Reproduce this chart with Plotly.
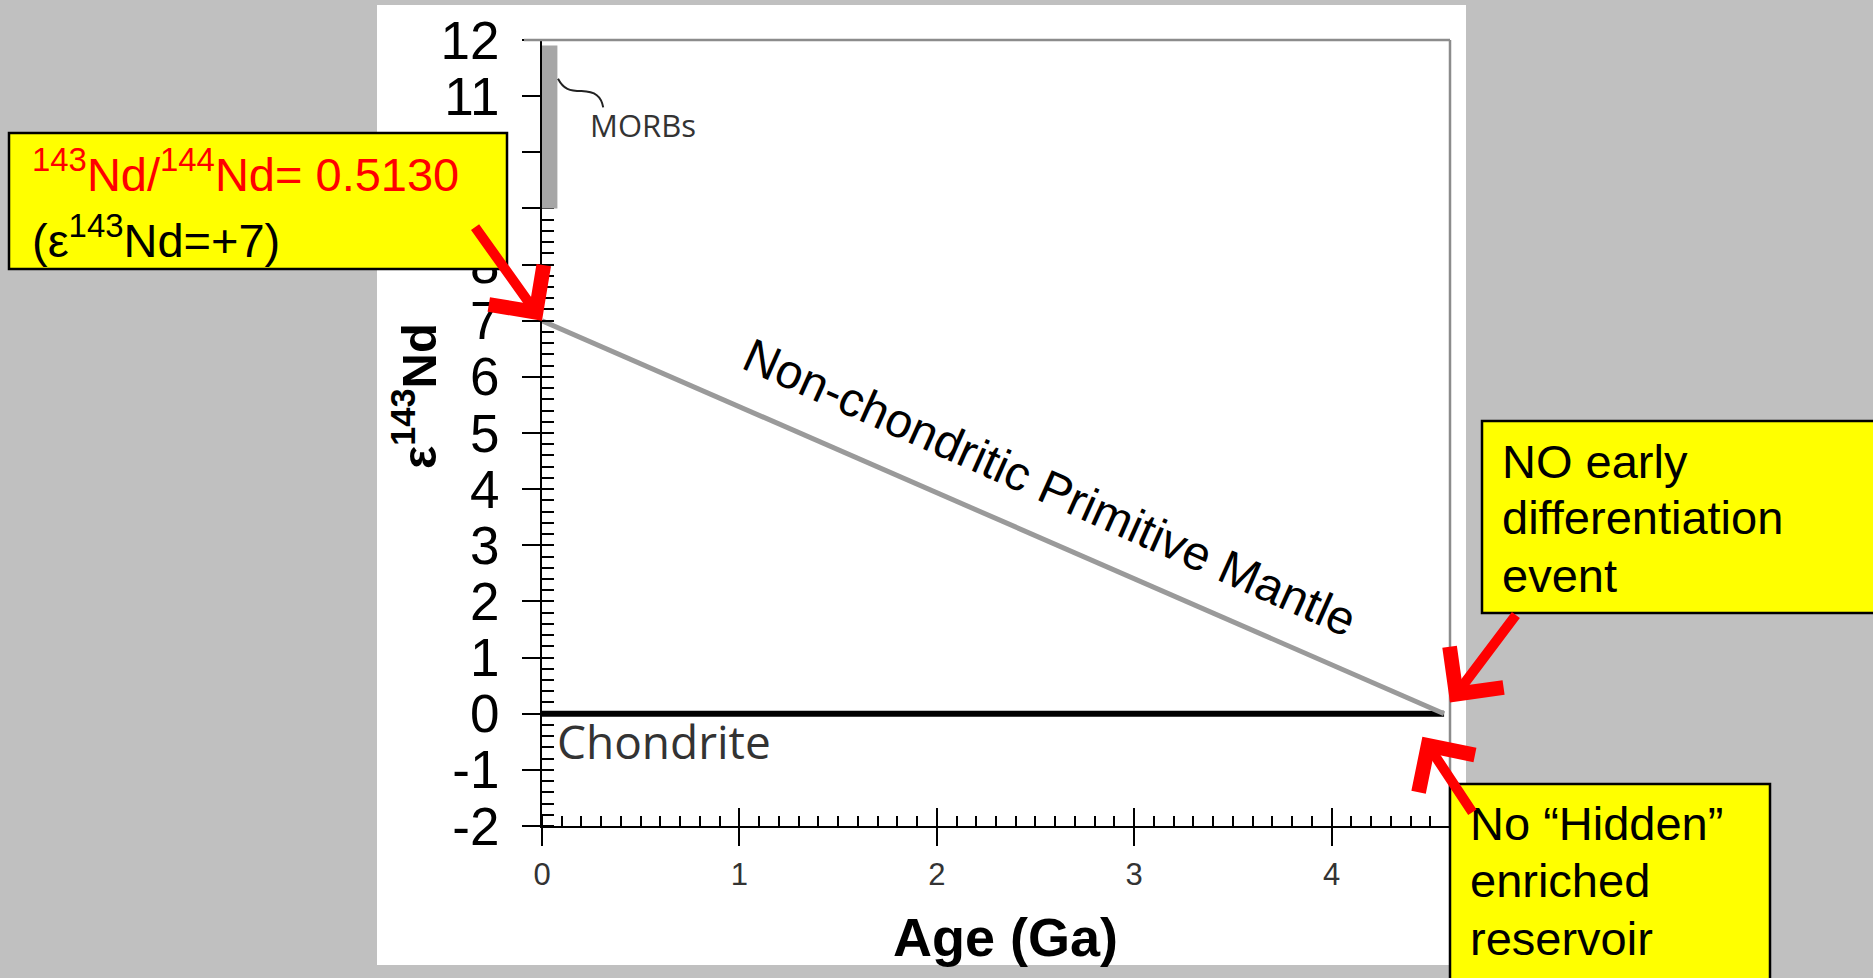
import plotly.graph_objects as go

# ---------------- data ----------------
AGE_GA = [0.0, 4.57]                 # age axis (Ga)
EPS_PRIMITIVE = [7.0, 0.0]           # non-chondritic primitive mantle evolution
EPS_CHONDRITE = [0.0, 0.0]           # chondrite reference
MORB_RANGE = [9.0, 11.9]             # MORB epsilon-Nd range (grey bar)
X_TICKS = [0, 1, 2, 3, 4]
Y_TICKS = list(range(-2, 13))
Y_TICK_LABELS = [str(v) for v in Y_TICKS]
# little curly connector from the MORB bar to its label (data coords)
BRACKET_X = [0.081, 0.11, 0.14, 0.20, 0.27, 0.30, 0.31]
BRACKET_Y = [11.31, 11.12, 11.09, 11.09, 11.08, 11.00, 10.80]

# ---------------- geometry helpers ----------------
W, H = 1873, 978
L, R, T, B = 542, 1450, 40, 826


def px(x):
    return (x - L) / (R - L)


def py(y):
    return (B - y) / (B - T)


FONT = "Liberation Sans, Arial, sans-serif"
SOFT = "Open Sans, Noto Sans, sans-serif"

fig = go.Figure()

fig.add_trace(go.Scatter(x=AGE_GA, y=EPS_CHONDRITE, mode="lines",
                         line=dict(color="#000000", width=6),
                         hoverinfo="skip"))
fig.add_trace(go.Scatter(x=AGE_GA, y=EPS_PRIMITIVE, mode="lines",
                         line=dict(color="#9a9a9a", width=5),
                         hoverinfo="skip"))
# invisible trace to activate the overlay axis (crossing major ticks)
fig.add_trace(go.Scatter(x=[X_TICKS[0]], y=[0], xaxis="x2", mode="markers",
                         marker=dict(opacity=0), hoverinfo="skip"))

bracket_path = "M {},{} C {},{} {},{} {},{} C {},{} {},{} {},{}".format(
    BRACKET_X[0], BRACKET_Y[0], BRACKET_X[1], BRACKET_Y[1], BRACKET_X[2], BRACKET_Y[2],
    BRACKET_X[3], BRACKET_Y[3], BRACKET_X[4], BRACKET_Y[4], BRACKET_X[5], BRACKET_Y[5],
    BRACKET_X[6], BRACKET_Y[6])

shapes = [
    # white slide panel
    dict(type="rect", xref="paper", yref="paper", x0=px(377), x1=px(1466),
         y0=py(965), y1=py(5), fillcolor="white", line=dict(width=0), layer="below"),
    # MORB bar
    dict(type="rect", xref="x", yref="y", x0=-0.006, x1=0.078,
         y0=MORB_RANGE[0], y1=MORB_RANGE[1], fillcolor="#a6a6a6",
         line=dict(width=0), layer="above"),
    dict(type="path", xref="x", yref="y", path=bracket_path,
         line=dict(color="#222222", width=2), layer="above"),
    # grey top / right frame
    dict(type="line", xref="paper", yref="paper", x0=px(524), x1=1, y0=1, y1=1,
         line=dict(color="#8c8c8c", width=2.5), layer="above"),
    dict(type="line", xref="paper", yref="paper", x0=1, x1=1, y0=0, y1=1,
         line=dict(color="#8c8c8c", width=2.5), layer="above"),
    # yellow call-out boxes
    dict(type="rect", xref="paper", yref="paper", x0=px(9), x1=px(507),
         y0=py(269), y1=py(133), fillcolor="#ffff00",
         line=dict(color="black", width=2.5), layer="above"),
    dict(type="rect", xref="paper", yref="paper", x0=px(1482), x1=px(1895),
         y0=py(613), y1=py(421), fillcolor="#ffff00",
         line=dict(color="black", width=2.5), layer="above"),
    dict(type="rect", xref="paper", yref="paper", x0=px(1450), x1=px(1770),
         y0=py(1000), y1=py(784), fillcolor="#ffff00",
         line=dict(color="black", width=2.5), layer="above"),
]

ann = []


def txt(text, x, y, size, color="black", family=FONT, xanchor="left", angle=0):
    ann.append(dict(text=text, xref="paper", yref="paper", x=px(x), y=py(y),
                    xanchor=xanchor, yanchor="middle", showarrow=False,
                    textangle=angle, font=dict(family=family, size=size, color=color)))


# box 1
txt("<sup>143</sup>Nd/<sup>144</sup>Nd= 0.5130", 30, 171, 47, color="#ff0000")
txt("(ε<sup>143</sup>Nd=+7)", 30, 237, 47)
# box 2
txt("NO early", 1500, 461, 47)
txt("differentiation", 1500, 517, 47)
txt("event", 1500, 575, 47)
# box 3
txt("No “Hidden”", 1468, 823, 47)
txt("enriched", 1468, 880, 47)
txt("reservoir", 1468, 938, 47)
# axis titles
txt("<b>Age (Ga)</b>", 1005, 937, 54, xanchor="center")
txt("<b>ε<sup>143</sup>Nd</b>", 415, 396, 49, xanchor="center", angle=-90)
# in-plot labels
txt("Chondrite", 555, 741, 46, color="#333333", family=SOFT)
txt("MORBs", 588, 125, 31, color="#333333", family=SOFT)
txt("Non-chondritic Primitive Mantle", 1050, 487, 48, xanchor="center", angle=24)

# red arrows (pointing at data locations)
ARROW = dict(showarrow=True, arrowhead=4, arrowsize=1.3, arrowwidth=10,
             arrowcolor="#ff0000", standoff=0, text="", xref="x", yref="y")
ann.append(dict(x=AGE_GA[0], y=EPS_PRIMITIVE[0], ax=-68, ay=-95, **ARROW))
ann.append(dict(x=4.6, y=0.2, ax=67, ay=-89, **ARROW))
ann.append(dict(x=4.46, y=-0.41, ax=51, ay=77, **ARROW))

fig.update_layout(
    width=W, height=H,
    margin=dict(l=L, r=W - R, t=T, b=H - B, pad=0),
    paper_bgcolor="#c0c0c0", plot_bgcolor="white",
    showlegend=False,
    shapes=shapes, annotations=ann,
    xaxis=dict(range=[0, 4.6], tickvals=X_TICKS, ticks="outside", ticklen=18,
               tickwidth=2, tickcolor="black", showline=True, linecolor="black",
               linewidth=2, showgrid=False, zeroline=False, ticklabelstandoff=2,
               tickfont=dict(family=FONT, size=31, color="#333333"),
               minor=dict(tick0=0, dtick=0.1, ticks="inside", ticklen=10,
                          tickwidth=2, tickcolor="black", showgrid=False)),
    xaxis2=dict(range=[0, 4.6], overlaying="x", anchor="y", side="bottom",
                tickvals=X_TICKS, ticks="inside", ticklen=18, tickwidth=2,
                tickcolor="black", showticklabels=False, showline=False,
                showgrid=False, zeroline=False),
    yaxis=dict(range=[-2, 12], tickvals=Y_TICKS, ticktext=Y_TICK_LABELS,
               ticks="outside", ticklen=18,
               tickwidth=2, tickcolor="black", showline=True, linecolor="black",
               linewidth=2, showgrid=False, zeroline=False, ticklabelstandoff=12,
               tickfont=dict(family=FONT, size=53, color="black"),
               minor=dict(tick0=0, dtick=0.2, ticks="inside", ticklen=12,
                          tickwidth=2, tickcolor="black", showgrid=False)),
)

fig.write_html(
    "out.html",
    config={"displayModeBar": False},
    post_script="document.body.style.margin='0';"
                "document.body.style.background='#c0c0c0';"
                "document.body.style.overflow='hidden';",
)
